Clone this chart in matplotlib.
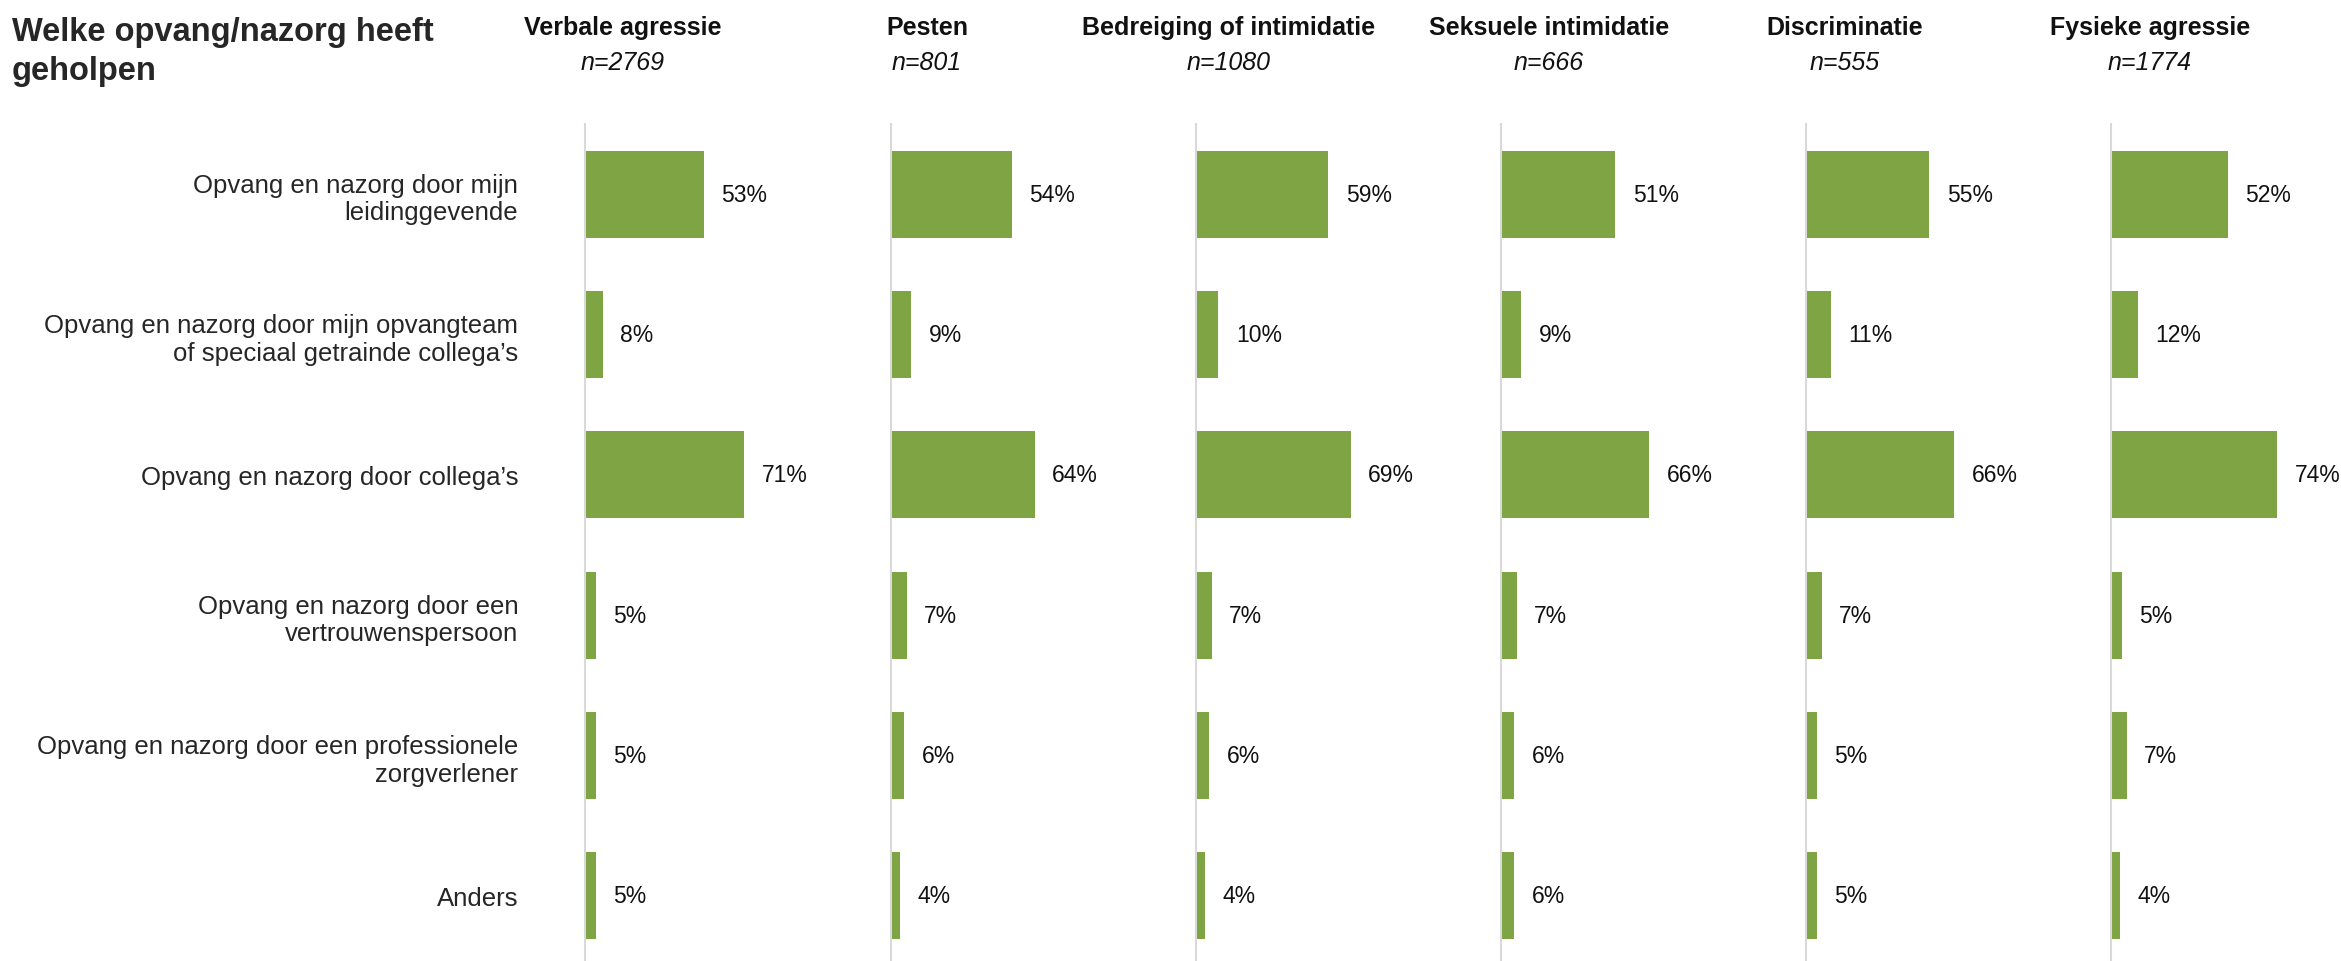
from matplotlib import pyplot as plt

plt.rcParams['font.family'] = ['Liberation Sans', 'DejaVu Sans']

# data
categories = ['Opvang en nazorg door mijn\nleidinggevende',
              'Opvang en nazorg door mijn opvangteam\nof speciaal getrainde collega\u2019s',
              'Opvang en nazorg door collega\u2019s',
              'Opvang en nazorg door een\nvertrouwenspersoon',
              'Opvang en nazorg door een professionele\nzorgverlener',
              'Anders']
panels = ['Verbale agressie', 'Pesten', 'Bedreiging of intimidatie',
          'Seksuele intimidatie', 'Discriminatie', 'Fysieke agressie']
n_values = [2769, 801, 1080, 666, 555, 1774]
verbale = [53, 8, 71, 5, 5, 5]
pesten = [54, 9, 64, 7, 6, 4]
bedreiging = [59, 10, 69, 7, 6, 4]
seksueel = [51, 9, 66, 7, 6, 6]
discriminatie = [55, 11, 66, 7, 5, 5]
fysiek = [52, 12, 74, 5, 7, 4]
series = [verbale, pesten, bedreiging, seksueel, discriminatie, fysiek]

# layout (pixels)
W, H = 2341, 962
axis_x = [585, 891, 1196, 1501, 1806, 2111]
header_x = [623, 927, 1229, 1549, 1845, 2150]
green = '#7ea443'
grey = '#d9d9d9'

fig = plt.figure(figsize=(W / 100, H / 100), dpi=100)

ax_w = 260
for i, vals in enumerate(series):
    ax = fig.add_axes([axis_x[i] / W, (H - 967) / H, ax_w / W, 842 / H])
    ax.barh(range(len(vals)), vals, height=0.62, color=green)
    ax.set_xlim(0, ax_w / 2.245)
    ax.set_ylim(len(vals) - 0.5, -0.5)
    for s in ['top', 'right', 'bottom']:
        ax.spines[s].set_visible(False)
    ax.spines['left'].set_color(grey)
    ax.spines['left'].set_linewidth(1.5)
    ax.set_xticks([])
    # percentage labels
    for j, v in enumerate(vals):
        ax.annotate(f'{v}%', (v, j), xytext=(12.5, 0), textcoords='offset points',
                    va='center', ha='left', fontsize=16.5, color='#111111')
    if i == 0:
        ax.set_yticks(range(len(categories)))
        ax.set_yticklabels(categories, fontsize=18.5, color='#262626', linespacing=1.2)
        ax.tick_params(axis='y', length=0, pad=48)
    else:
        ax.set_yticks([])

    fig.text(header_x[i] / W, 1 - 28 / H, panels[i], ha='center', va='center',
             fontsize=18, fontweight='bold', color='#111111')
    fig.text(header_x[i] / W, 1 - 63 / H, f'n={n_values[i]}', ha='center', va='center',
             fontsize=18, fontstyle='italic', color='#111111')

fig.text(12 / W, 1 - 52 / H, 'Welke opvang/nazorg heeft\ngeholpen', ha='left', va='center',
         fontsize=23.5, fontweight='bold', color='#262626', linespacing=1.35)

plt.savefig('out.png', dpi=100, facecolor='white')
